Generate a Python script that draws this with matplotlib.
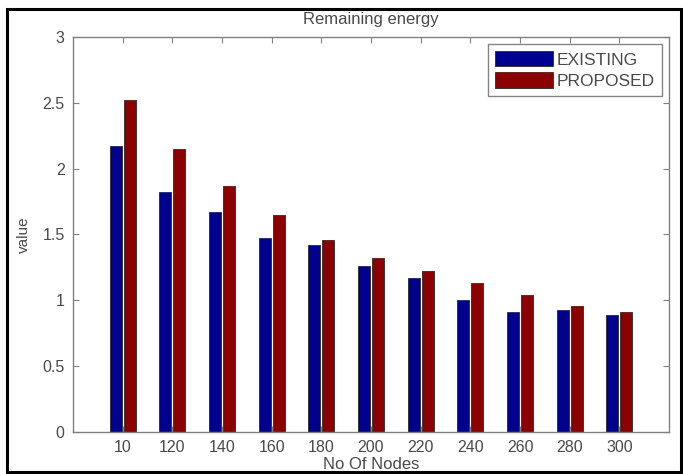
import matplotlib
matplotlib.use("Agg")
import matplotlib.pyplot as plt, numpy as np
from matplotlib.patches import Rectangle

nodes = ["10", "120", "140", "160", "180", "200", "220", "240", "260", "280", "300"]
existing = [2.17, 1.82, 1.67, 1.47, 1.42, 1.26, 1.17, 1.00, 0.91, 0.93, 0.89]
proposed = [2.52, 2.15, 1.87, 1.65, 1.46, 1.32, 1.22, 1.13, 1.04, 0.96, 0.91]

plt.rcParams["font.family"] = ["Liberation Sans", "DejaVu Sans"]
txt = "#4a4a4a"

fig = plt.figure(figsize=(6.83, 4.74), dpi=100)
ax = fig.add_axes([73/683, 1-432/474, 596/683, 395/474])

x = np.arange(1, len(nodes)+1); w = 0.24
ax.bar(x-0.14, existing, w, color="#00008F", edgecolor="#2a2a2a", linewidth=0.6, label="EXISTING")
ax.bar(x+0.14, proposed, w, color="#8B0000", edgecolor="#2a2a2a", linewidth=0.6, label="PROPOSED")

ax.set_xlim(0, 12); ax.set_ylim(0, 3)
ax.set_xticks(x); ax.set_xticklabels(nodes)
ax.set_yticks(np.arange(0, 3.01, 0.5)); ax.set_yticklabels(["0", "0.5", "1", "1.5", "2", "2.5", "3"])
ax.tick_params(direction="in", top=True, right=True, length=4, color="#808080",
               labelsize=11.5, labelcolor=txt, pad=6)
for s in ax.spines.values():
    s.set_color("#808080"); s.set_linewidth(1.0)

ax.set_title("Remaining energy", fontsize=12, color=txt, pad=9)
ax.set_xlabel("No Of Nodes", fontsize=12, color=txt, labelpad=1)
ax.set_ylabel("value", fontsize=11, color=txt, labelpad=8)

leg = ax.legend(loc="upper right", bbox_to_anchor=(662/683, 1-44/474), bbox_transform=fig.transFigure,
                borderaxespad=0, fontsize=12.5, frameon=True, fancybox=False, edgecolor="#666666",
                handlelength=3.3, handleheight=1.0, handletextpad=0.25,
                borderpad=0.4, labelspacing=0.25)
leg.get_frame().set_linewidth(1.0)
for t in leg.get_texts():
    t.set_color(txt)

fig.patches.append(Rectangle((7/683, 2/474), 674/683, 1-11/474, transform=fig.transFigure,
                             fill=False, edgecolor="black", linewidth=2.2))

plt.savefig("out.png", dpi=100); plt.close()
